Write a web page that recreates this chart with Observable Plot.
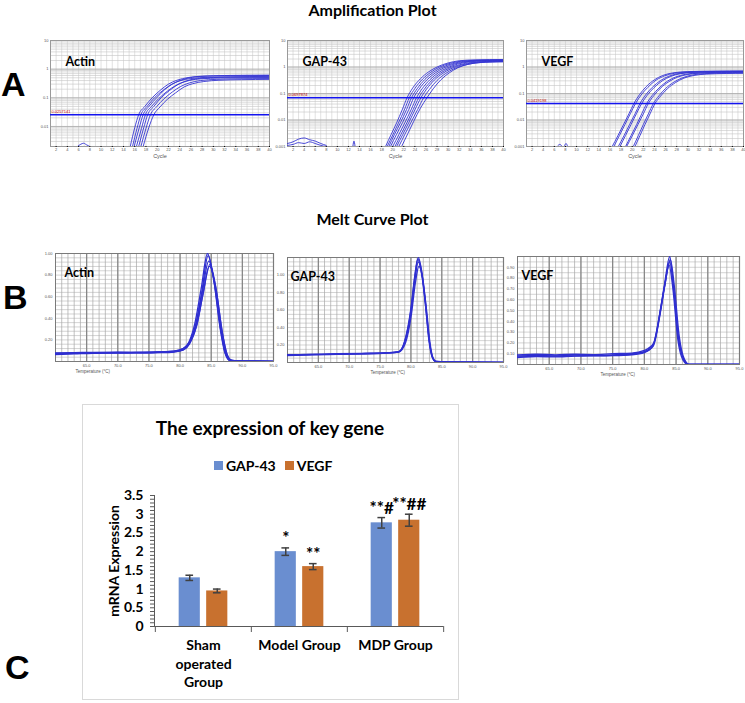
<!DOCTYPE html>
<html><head><meta charset="utf-8">
<script src="https://cdn.jsdelivr.net/npm/d3@7"></script>
<script src="https://cdn.jsdelivr.net/npm/@observablehq/plot@0.6"></script>
<style>
body{margin:0;background:#fff;}
#page{position:relative;width:745px;height:703px;overflow:hidden;font-family:Lato,"Open Sans",sans-serif;background:#fff;}
.title{font-weight:700;font-size:16px;line-height:18px;color:#000;text-align:center;width:745px;white-space:nowrap;}
.big{font-family:"Liberation Sans",Arial,sans-serif;font-weight:700;font-size:34px;line-height:34px;color:#000;}
.ctitle{font-weight:700;font-size:19px;line-height:22px;color:#000;text-align:center;width:376px;white-space:nowrap;}
.box{border:1px solid #d9d9d9;box-sizing:border-box;}
.leg-swatches{min-height:0!important;margin:0!important;font-family:Lato,sans-serif!important;font-size:14px!important;font-weight:700!important;color:#000!important;}
.leg-swatch{margin-right:9px!important;}
.leg-swatch > svg{margin-right:3px!important;}
</style></head><body><div id="page"></div>
<script>
// ---------- Panel A: amplification curves, [cycle, ΔRn] ----------
const cycleTicks = [2,4,6,8,10,12,14,16,18,20,22,24,26,28,30,32,34,36,38,40];
const actinThreshold = 0.0257141, actinThresholdText = "0.0257141";
const gapThreshold = 0.0698, gapThresholdText = "0.0697874";
const vegfThreshold = 0.0419, vegfThresholdText = "0.0419198";
const actinAmpYTicks = [0.01,0.1,1,10];
const ampYTicks = [0.001,0.01,0.1,1,10];

const actinAmp = [
 [[15.2,0.002],[16.0,0.009],[16.7,0.0257],[17.8,0.05],[19.1,0.1],[20.5,0.18],[22.0,0.3],[23.5,0.41],[25.5,0.51],[28,0.57],[32,0.6],[40,0.62]],
 [[15.6,0.002],[16.4,0.0085],[17.1,0.0257],[18.2,0.05],[19.5,0.1],[21.0,0.18],[22.5,0.29],[24.0,0.39],[26,0.47],[29,0.52],[33,0.54],[40,0.56]],
 [[15.9,0.002],[16.8,0.009],[17.5,0.0257],[18.6,0.052],[19.9,0.1],[21.3,0.19],[22.8,0.31],[24.3,0.42],[26.3,0.52],[29,0.57],[33,0.59],[40,0.6]],
 [[16.3,0.002],[17.2,0.0085],[17.9,0.0257],[19.0,0.05],[20.3,0.095],[21.8,0.17],[23.3,0.27],[24.8,0.36],[26.8,0.44],[29.5,0.48],[33,0.5],[40,0.51]],
 [[16.7,0.002],[17.6,0.009],[18.3,0.0257],[19.4,0.05],[20.7,0.1],[22.2,0.18],[23.7,0.29],[25.2,0.39],[27.2,0.47],[30,0.51],[34,0.53],[40,0.54]],
 [[17.1,0.002],[18.0,0.0085],[18.8,0.0257],[19.9,0.049],[21.2,0.092],[22.7,0.16],[24.2,0.25],[25.7,0.33],[27.7,0.4],[30.5,0.44],[34,0.46],[40,0.47]],
 [[17.5,0.002],[18.5,0.009],[19.4,0.0257],[20.5,0.048],[21.8,0.088],[23.3,0.15],[24.8,0.24],[26.3,0.31],[28.3,0.37],[31,0.41],[35,0.43],[40,0.44]]
];
const actinAmpNoise = [
 [[5.8,0.002],[6.4,0.0024],[6.9,0.0026],[7.4,0.0023],[8.0,0.002]]
];
const gapAmp = [
 [[18.7,0.001],[19.7,0.0028],[20.7,0.0078],[21.7,0.024],[22.6,0.07],[23.6,0.16],[25.0,0.36],[26.5,0.66],[28.0,1.0],[30.0,1.42],[32.0,1.72],[35,1.86],[40,1.92]],
 [[19.0,0.001],[20.0,0.0027],[21.0,0.0075],[22.1,0.024],[23.0,0.07],[24.0,0.155],[25.4,0.35],[26.9,0.64],[28.4,0.98],[30.4,1.38],[32.4,1.66],[35.5,1.8],[40,1.86]],
 [[19.3,0.001],[20.3,0.0028],[21.4,0.008],[22.5,0.025],[23.4,0.07],[24.4,0.15],[25.8,0.34],[27.3,0.62],[28.8,0.95],[30.8,1.34],[32.8,1.62],[36,1.76],[40,1.8]],
 [[19.6,0.001],[20.7,0.0029],[21.8,0.0082],[22.9,0.025],[23.8,0.07],[24.8,0.15],[26.2,0.33],[27.7,0.6],[29.2,0.92],[31.2,1.3],[33.2,1.58],[36,1.72],[40,1.78]],
 [[20.0,0.001],[21.1,0.0028],[22.2,0.008],[23.3,0.024],[24.3,0.07],[25.3,0.15],[26.7,0.33],[28.2,0.6],[29.7,0.9],[31.7,1.28],[33.7,1.55],[36.5,1.7],[40,1.75]],
 [[20.4,0.001],[21.5,0.0029],[22.6,0.0082],[23.7,0.025],[24.7,0.07],[25.7,0.145],[27.1,0.32],[28.6,0.58],[30.1,0.88],[32.1,1.22],[34.1,1.48],[37,1.62],[40,1.66]],
 [[20.7,0.001],[21.8,0.0028],[22.9,0.008],[24.0,0.024],[25.1,0.07],[26.1,0.145],[27.5,0.32],[29.0,0.57],[30.5,0.86],[32.5,1.2],[34.5,1.45],[37,1.58],[40,1.62]],
 [[21.1,0.001],[22.2,0.0029],[23.3,0.0082],[24.5,0.025],[25.6,0.07],[26.6,0.14],[28.0,0.31],[29.5,0.56],[31.0,0.85],[33.0,1.18],[35.0,1.42],[37.5,1.55],[40,1.58]],
 [[21.6,0.001],[22.7,0.003],[23.8,0.009],[25.0,0.028],[26.2,0.07],[27.3,0.15],[28.7,0.33],[30.2,0.6],[31.7,0.92],[33.5,1.25],[35.5,1.45],[38,1.55],[40,1.58]]
];
const gapAmpNoise = [
 [[1,0.0013],[2,0.0015],[3,0.0019],[4,0.0021],[5,0.0018],[6,0.0016],[7,0.0013],[8,0.0011]],
 [[1,0.0011],[2,0.0012],[3,0.0014],[4,0.0013],[5,0.0015],[6,0.0013],[7,0.0011],[8,0.001]],
 [[12.8,0.001],[13.0,0.0016],[13.2,0.001]]
];
const vegfAmp = [
 [[16.4,0.001],[17.4,0.0025],[18.4,0.0065],[19.4,0.017],[20.3,0.042],[21.3,0.09],[22.5,0.18],[24.0,0.33],[25.5,0.48],[27.3,0.6],[30,0.67],[35,0.7],[40,0.71]],
 [[16.7,0.001],[17.7,0.0026],[18.7,0.0068],[19.7,0.018],[20.6,0.042],[21.6,0.088],[22.8,0.17],[24.3,0.32],[25.8,0.46],[27.6,0.58],[30.3,0.65],[35,0.68],[40,0.69]],
 [[17.5,0.001],[18.5,0.0025],[19.5,0.0066],[20.5,0.017],[21.4,0.042],[22.4,0.088],[23.6,0.17],[25.1,0.31],[26.6,0.45],[28.4,0.57],[31,0.64],[35,0.67],[40,0.68]],
 [[17.8,0.001],[18.8,0.0026],[19.8,0.0068],[20.8,0.018],[21.7,0.042],[22.7,0.086],[23.9,0.165],[25.4,0.3],[26.9,0.44],[28.7,0.56],[31.3,0.63],[35,0.66],[40,0.67]],
 [[18.8,0.001],[19.8,0.0026],[20.8,0.0068],[21.7,0.017],[22.6,0.042],[23.6,0.085],[24.8,0.16],[26.3,0.29],[27.8,0.42],[29.6,0.53],[32,0.6],[36,0.63],[40,0.64]],
 [[19.0,0.001],[20.0,0.0025],[21.0,0.0066],[22.0,0.017],[22.9,0.042],[23.9,0.084],[25.1,0.16],[26.6,0.28],[28.1,0.41],[29.9,0.52],[32.3,0.59],[36,0.62],[40,0.63]],
 [[20.2,0.001],[21.1,0.0026],[22.0,0.0068],[22.9,0.017],[23.8,0.042],[24.8,0.082],[26.0,0.155],[27.5,0.27],[29.0,0.39],[30.8,0.5],[33,0.56],[36.5,0.59],[40,0.6]],
 [[20.5,0.001],[21.4,0.0026],[22.3,0.0068],[23.2,0.017],[24.1,0.042],[25.1,0.08],[26.3,0.15],[27.8,0.26],[29.3,0.38],[31.1,0.48],[33.3,0.54],[37,0.57],[40,0.58]]
];
const vegfAmpNoise = [
 [[6.5,0.001],[7.0,0.0012],[7.4,0.001]],
 [[7.8,0.001],[8.1,0.0013],[8.4,0.001]]
];

// ---------- Panel B: melt curves, [temperature °C, derivative] ----------
const meltTempTicks = [65,70,75,80,85,90,95];
const actinMeltYTicks = [0.2,0.4,0.6,0.8,1.0];
const gapMeltYTicks = [0.2,0.4,0.6,0.8,1.0];
const vegfMeltYTicks = [0.1,0.2,0.3,0.4,0.5,0.6,0.7,0.8,0.9];
const actinMelt = [
 [[60,0.07],[63,0.075],[66,0.08],[70,0.082],[74,0.08],[77,0.085],[79,0.09],[80.5,0.11],[81.5,0.17],[82.5,0.33],[83.5,0.65],[84.5,0.98],[85.5,0.72],[86.5,0.3],[87.3,0.07],[88,0.01],[90,0.003],[95,0.002]],
 [[60,0.075],[63,0.08],[66,0.078],[70,0.085],[74,0.083],[77,0.088],[79,0.095],[80.5,0.12],[81.5,0.18],[82.5,0.34],[83.5,0.62],[84.6,0.93],[85.6,0.7],[86.6,0.28],[87.4,0.06],[88.1,0.01],[90,0.003],[95,0.002]],
 [[60,0.065],[63,0.07],[66,0.076],[70,0.078],[74,0.08],[77,0.082],[79,0.088],[80.5,0.105],[81.5,0.16],[82.6,0.32],[83.6,0.6],[84.7,0.88],[85.7,0.7],[86.7,0.3],[87.5,0.07],[88.2,0.012],[90,0.003],[95,0.002]],
 [[60,0.08],[63,0.082],[66,0.085],[70,0.086],[74,0.084],[77,0.09],[79,0.096],[80.5,0.12],[81.5,0.19],[82.4,0.36],[83.4,0.68],[84.4,1.0],[85.4,0.76],[86.4,0.32],[87.2,0.08],[88,0.01],[90,0.003],[95,0.002]],
 [[60,0.072],[63,0.078],[66,0.082],[70,0.08],[74,0.086],[77,0.087],[79,0.092],[80.5,0.115],[81.6,0.18],[82.7,0.34],[83.7,0.63],[84.8,0.9],[85.8,0.66],[86.8,0.26],[87.6,0.06],[88.3,0.01],[90,0.003],[95,0.002]]
];
const gapMelt = [
 [[60,0.085],[64,0.09],[68,0.095],[72,0.1],[76,0.108],[78,0.12],[79,0.24],[80,0.6],[80.6,0.96],[81.2,1.2],[81.8,1.02],[82.4,0.66],[83,0.24],[83.5,0.06],[84,0.012],[86,0.006],[95,0.0]],
 [[60,0.09],[64,0.092],[68,0.1],[72,0.105],[76,0.11],[78,0.125],[79,0.23],[80,0.57],[80.6,0.92],[81.2,1.15],[81.8,0.98],[82.4,0.63],[83,0.23],[83.5,0.055],[84,0.012],[86,0.005],[95,0.0]],
 [[60,0.08],[64,0.088],[68,0.092],[72,0.098],[76,0.106],[78,0.118],[79.1,0.22],[80.1,0.56],[80.7,0.9],[81.3,1.1],[81.9,0.96],[82.5,0.62],[83.1,0.22],[83.6,0.05],[84.1,0.01],[86,0.005],[95,0.0]],
 [[60,0.088],[64,0.094],[68,0.097],[72,0.102],[76,0.112],[78,0.122],[79,0.25],[80,0.62],[80.6,0.98],[81.1,1.18],[81.7,1.05],[82.3,0.7],[82.9,0.26],[83.4,0.07],[84,0.012],[86,0.006],[95,0.0]]
];
const vegfMelt = [
 [[60,0.08],[63,0.085],[66,0.08],[69,0.09],[72,0.085],[75,0.09],[78,0.1],[80,0.12],[81.4,0.18],[82.5,0.5],[83.2,0.75],[84,1.0],[84.6,0.72],[85.4,0.24],[86.2,0.05],[87,0.0],[90,0.0],[95,0.0]],
 [[60,0.07],[63,0.075],[66,0.078],[69,0.08],[72,0.082],[75,0.085],[78,0.095],[80,0.115],[81.4,0.17],[82.5,0.47],[83.2,0.72],[84,0.95],[84.6,0.7],[85.4,0.23],[86.2,0.05],[87,0.0],[90,0.0],[95,0.0]],
 [[60,0.09],[63,0.095],[66,0.09],[69,0.095],[72,0.092],[75,0.1],[78,0.105],[80,0.13],[81.5,0.2],[82.6,0.52],[83.3,0.76],[84.1,0.97],[84.7,0.74],[85.5,0.26],[86.3,0.05],[87.1,0.0],[90,0.0],[95,0.0]],
 [[60,0.065],[63,0.072],[66,0.07],[69,0.078],[72,0.08],[75,0.082],[78,0.09],[80,0.11],[81.3,0.17],[82.4,0.46],[83.1,0.7],[83.9,0.92],[84.5,0.7],[85.3,0.22],[86.1,0.04],[86.9,0.0],[90,0.0],[95,0.0]]
];

// ---------- Panel C: bar chart ----------
const groups = ["Sham operated Group","Model Group","MDP Group"];
const groupLabels = ["Sham\noperated\nGroup","Model Group","MDP Group"];
const series = ["GAP-43","VEGF"];
const seriesColors = ["#6A8ED0","#C8712F"];
const gap43Values = [1.30, 2.00, 2.77];
const vegfValues = [0.95, 1.60, 2.84];
const gap43Err = [0.07, 0.10, 0.14];
const vegfErr = [0.05, 0.08, 0.16];
const gap43Sig = ["", "*", "**#"];
const vegfSig = ["", "**", "**##"];
const barYTicks = [0,0.5,1,1.5,2,2.5,3,3.5];

// ---------- helpers ----------
const page = document.getElementById("page");
function place(node, left, top){ node.style.position="absolute"; node.style.left=left+"px"; node.style.top=top+"px"; page.appendChild(node); return node; }
function label(text, left, top, cls){ const d=document.createElement("div"); d.textContent=text; d.className=cls; return place(d,left,top); }
function toRows(curves, prefix, xKey, yKey){ const rows=[]; curves.forEach((c,i)=>c.forEach(p=>rows.push({id:prefix+i,[xKey]:p[0],[yKey]:p[1]}))); return rows; }
const smallFont = "'Liberation Sans', Arial, sans-serif";

function ampPlot(o){
  const rows = toRows(o.curves,"c","cycle","value").concat(toRows(o.noise,"n","cycle","value"));
  const minor = d3.scaleLog().domain(o.yDomain).ticks();
  return Plot.plot({
    width:o.width, height:o.height, marginLeft:o.ml, marginRight:o.mr, marginTop:o.mt, marginBottom:o.mb,
    x:{domain:[1,40]}, y:{type:"log", domain:o.yDomain},
    style:{fontFamily:smallFont, fontSize:"4px", background:"transparent", overflow:"visible"},
    marks:[
      Plot.gridX(d3.range(1,41), {stroke:"#cdcdcd", strokeOpacity:1, strokeWidth:0.6}),
      Plot.gridY(minor, {stroke:"#c4c4c4", strokeOpacity:1, strokeWidth:0.6}),
      Plot.gridY(o.yTicks, {stroke:"#a8a8a8", strokeOpacity:1, strokeWidth:0.7}),
      Plot.frame({stroke:"#9a9a9a"}),
      Plot.axisX(cycleTicks, {tickSize:1, tickPadding:0.5, fontSize:4, label:null, fill:"#555"}),
      Plot.axisY(o.yTicks, {tickSize:0, tickPadding:2, fontSize:4, label:null, fill:"#555", tickFormat:d=>String(d)}),
      Plot.text(["Cycle"], {frameAnchor:"bottom", dy:11, fontSize:5.5, fill:"#555"}),
      Plot.line(rows, {x:"cycle", y:"value", z:"id", stroke:"#3434d2", strokeWidth:0.9, curve:"monotone-x", clip:true}),
      Plot.ruleY([o.threshold], {stroke:"#1414f0", strokeWidth:1.5}),
      Plot.text([o.threshold], {y:d=>d, frameAnchor:"left", dx:1, dy:-3, text:()=>o.thresholdText, textAnchor:"start", fill:"#c00000", fontSize:4}),
      Plot.text([o.gene], {frameAnchor:"top-left", dx:15, dy:17, textAnchor:"start", fontSize:12.5, fontWeight:"bold", fontFamily:"Lato, sans-serif", fill:"#000"})
    ]
  });
}

function meltPlot(o){
  const rows = toRows(o.curves,"m","temp","deriv");
  return Plot.plot({
    width:o.width, height:o.height, marginLeft:o.ml, marginRight:o.mr, marginTop:o.mt, marginBottom:o.mb,
    x:{domain:[60,95]}, y:{domain:o.yDomain},
    style:{fontFamily:smallFont, fontSize:"4px", background:"transparent", overflow:"visible"},
    marks:[
      Plot.gridY(d3.range(0, o.yDomain[1]+1e-9, o.yGridStep), {stroke:"#c2c2c2", strokeOpacity:1, strokeWidth:0.7}),
      Plot.gridX(d3.range(61,95,1), {stroke:"#a6a6a6", strokeOpacity:1, strokeWidth:0.7}),
      Plot.gridX(meltTempTicks, {stroke:"#858585", strokeOpacity:1, strokeWidth:1.2}),
      Plot.frame({stroke:"#7a7a7a"}),
      Plot.axisX(meltTempTicks, {tickSize:0, tickPadding:3, fontSize:4, label:null, fill:"#555", tickFormat:d=>d.toFixed(1)}),
      Plot.axisY(o.yTicks, {tickSize:0, tickPadding:3, fontSize:4, label:null, fill:"#555", tickFormat:d=>d.toFixed(2)}),
      Plot.text(["Temperature (°C)"], {frameAnchor:"bottom-left", dx:o.tdx, dy:11, textAnchor:"start", fontSize:4.5, fill:"#555"}),
      Plot.line(rows, {x:"temp", y:"deriv", z:"id", stroke:"#2f2fd0", strokeWidth:1.3, curve:"monotone-x", clip:true}),
      Plot.text([o.gene], {frameAnchor:"top-left", dx:o.gdx, dy:15, textAnchor:"start", fontSize:12.5, fontWeight:"bold", fontFamily:"Lato, sans-serif", fill:"#000"})
    ]
  });
}

// ---------- titles & letters ----------
label("Amplification Plot", 0, 1, "title");
label("Melt Curve Plot", 0, 210, "title");
label("A", 1, 67, "big");
label("B", 3, 280, "big");
label("C", 5, 650, "big");

// ---------- Panel A ----------
place(ampPlot({curves:actinAmp, noise:actinAmpNoise, yDomain:[0.002,10], yTicks:actinAmpYTicks, threshold:actinThreshold, thresholdText:actinThresholdText, gene:"Actin", width:240, height:130, ml:10, mr:11, mt:6, mb:18}), 40, 34);
place(ampPlot({curves:gapAmp, noise:gapAmpNoise, yDomain:[0.001,10], yTicks:ampYTicks, threshold:gapThreshold, thresholdText:gapThresholdText, gene:"GAP-43", width:240, height:130, ml:10, mr:14, mt:6, mb:18}), 277, 34);
place(ampPlot({curves:vegfAmp, noise:vegfAmpNoise, yDomain:[0.001,10], yTicks:ampYTicks, threshold:vegfThreshold, thresholdText:vegfThresholdText, gene:"VEGF", width:229, height:130, ml:10, mr:2, mt:6, mb:18}), 516, 34);

// ---------- Panel B ----------
place(meltPlot({curves:actinMelt, yDomain:[0,1.0], yTicks:actinMeltYTicks, yGridStep:0.04, gene:"Actin", gdx:9, tdx:20, width:240, height:138, ml:15, mr:7, mt:13, mb:17}), 40, 240);
place(meltPlot({curves:gapMelt, yDomain:[0,1.2], yTicks:gapMeltYTicks, yGridStep:0.05, gene:"GAP-43", gdx:3, tdx:83, width:240, height:134, ml:15, mr:9, mt:13, mb:16}), 272, 244);
place(meltPlot({curves:vegfMelt, yDomain:[0,1.0], yTicks:vegfMeltYTicks, yGridStep:0.05, gene:"VEGF", gdx:4, tdx:83, width:243, height:137, ml:15, mr:6, mt:13, mb:16}), 502, 243);

// ---------- Panel C ----------
const box = document.createElement("div"); box.className="box"; box.style.width="377px"; box.style.height="296px"; place(box, 82, 404);
label("The expression of key gene", 82, 417, "ctitle");
const legend = Plot.legend({color:{type:"ordinal", domain:series, range:seriesColors}, swatchSize:9, className:"leg"});
place(legend, 214, 457);

const barRows = [];
groups.forEach((g,i)=>{
  barRows.push({group:g, series:series[0], value:gap43Values[i], err:gap43Err[i], sig:gap43Sig[i]});
  barRows.push({group:g, series:series[1], value:vegfValues[i], err:vegfErr[i], sig:vegfSig[i]});
});
const gRows = barRows.filter(d=>d.series===series[0]);
const vRows = barRows.filter(d=>d.series===series[1]);

const W=376, H=220, ML=72, MR=15, MT=15, MB=74;
const band = (W-ML-MR)/groups.length, half = band/2;
const barW = 21.5, gapW = 6, off = (barW+gapW)/2, capW = 8;
const inNear = half - gapW/2, inFar = half - gapW/2 - barW;
const capNear = half - off - capW/2, capFar = half + off - capW/2;
const axisGray = "#595959", errGray = "#404040";
const labelOf = Object.fromEntries(groups.map((g,i)=>[g, groupLabels[i]]));

const bar = Plot.plot({
  width:W, height:H, marginLeft:ML, marginRight:MR, marginTop:MT, marginBottom:MB,
  x:{domain:groups, padding:0, label:null},
  y:{domain:[0,3.5], label:null},
  style:{fontFamily:"Lato, sans-serif", fontWeight:"bold", fontSize:"14px", color:"#000", background:"transparent", overflow:"visible"},
  marks:[
    Plot.axisY(d3.range(0,3.501,0.1), {tickSize:4, stroke:axisGray, tickFormat:()=>"", label:null}),
    Plot.axisY(barYTicks, {tickSize:0, tickPadding:11, fontSize:14, fill:"#000", label:null, tickFormat:d=>String(d)}),
    Plot.frame({anchor:"left", stroke:axisGray}),
    Plot.axisX(groups, {tickSize:6, dx:-half, stroke:axisGray, tickFormat:()=>"", label:null}),
    Plot.axisX([groups[groups.length-1]], {tickSize:6, dx:half, stroke:axisGray, tickFormat:()=>"", label:null}),
    Plot.text(groups, {x:d=>d, text:d=>labelOf[d], frameAnchor:"bottom", dy:11, lineAnchor:"top", lineHeight:1.3, fontSize:14, fill:"#000"}),
    Plot.barY(gRows, {x:"group", y:"value", fill:seriesColors[0], insetLeft:inFar, insetRight:inNear + gapW}),
    Plot.barY(vRows, {x:"group", y:"value", fill:seriesColors[1], insetLeft:inNear + gapW, insetRight:inFar}),
    Plot.ruleY([0], {stroke:axisGray, strokeWidth:1.2}),
    Plot.ruleX(gRows, {x:"group", y1:d=>d.value-d.err, y2:d=>d.value+d.err, dx:-off, stroke:errGray, strokeWidth:1.5}),
    Plot.ruleX(vRows, {x:"group", y1:d=>d.value-d.err, y2:d=>d.value+d.err, dx:off, stroke:errGray, strokeWidth:1.5}),
    Plot.tickY(gRows, {x:"group", y:d=>d.value+d.err, insetLeft:capNear, insetRight:band-capNear-capW, stroke:errGray, strokeWidth:1.5}),
    Plot.tickY(gRows, {x:"group", y:d=>d.value-d.err, insetLeft:capNear, insetRight:band-capNear-capW, stroke:errGray, strokeWidth:1.5}),
    Plot.tickY(vRows, {x:"group", y:d=>d.value+d.err, insetLeft:capFar, insetRight:band-capFar-capW, stroke:errGray, strokeWidth:1.5}),
    Plot.tickY(vRows, {x:"group", y:d=>d.value-d.err, insetLeft:capFar, insetRight:band-capFar-capW, stroke:errGray, strokeWidth:1.5}),
    Plot.text(gRows, {x:"group", y:d=>d.value+d.err, text:"sig", dx:-off, dy:-4, lineAnchor:"bottom", fontSize:17, fill:"#000"}),
    Plot.text(vRows, {x:"group", y:d=>d.value+d.err, text:"sig", dx:off, dy:-4, lineAnchor:"bottom", fontSize:17, fill:"#000"}),
    Plot.text(["mRNA Expression"], {frameAnchor:"left", dx:-40, rotate:-90, textAnchor:"middle", fontSize:14, fill:"#000"})
  ]
});
place(bar, 82, 480);
</script></body></html>
